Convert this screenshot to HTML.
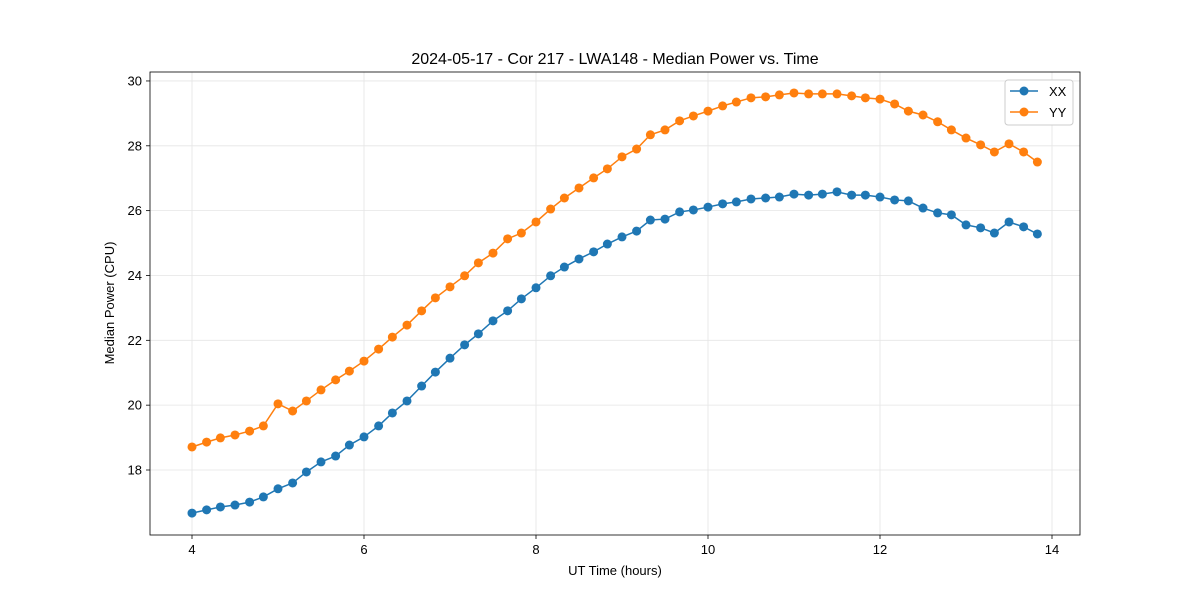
<!DOCTYPE html>
<html><head><meta charset="utf-8"><style>
body{margin:0;background:#fff;}
svg{display:block;font-family:"Liberation Sans","DejaVu Sans",sans-serif;}
</style></head><body>
<svg id="chart" width="1200" height="600"></svg>
<script>
const times=[4.00,4.17,4.33,4.50,4.67,4.83,5.00,5.17,5.33,5.50,5.67,5.83,6.00,6.17,6.33,6.50,6.67,6.83,7.00,7.17,7.33,7.50,7.67,7.83,8.00,8.17,8.33,8.50,8.67,8.83,9.00,9.17,9.33,9.50,9.67,9.83,10.00,10.17,10.33,10.50,10.67,10.83,11.00,11.17,11.33,11.50,11.67,11.83,12.00,12.17,12.33,12.50,12.67,12.83,13.00,13.17,13.33,13.50,13.67,13.83];
const xxValues=[16.67,16.77,16.86,16.92,17.01,17.17,17.42,17.60,17.94,18.25,18.43,18.77,19.02,19.36,19.76,20.13,20.59,21.02,21.45,21.86,22.20,22.60,22.91,23.28,23.62,23.99,24.26,24.51,24.73,24.97,25.19,25.37,25.71,25.74,25.96,26.02,26.11,26.21,26.27,26.36,26.39,26.42,26.51,26.48,26.51,26.58,26.48,26.48,26.42,26.33,26.30,26.08,25.93,25.87,25.56,25.47,25.31,25.65,25.50,25.28];
const yyValues=[18.71,18.86,18.99,19.08,19.20,19.36,20.04,19.82,20.13,20.47,20.78,21.05,21.36,21.73,22.10,22.47,22.91,23.31,23.65,23.99,24.39,24.69,25.13,25.31,25.65,26.05,26.39,26.70,27.01,27.29,27.66,27.90,28.34,28.49,28.77,28.92,29.07,29.23,29.35,29.48,29.51,29.57,29.63,29.60,29.60,29.60,29.54,29.48,29.44,29.29,29.07,28.95,28.74,28.49,28.24,28.03,27.81,28.06,27.81,27.50];
const xTicks=[4,6,8,10,12,14];
const yTicks=[18,20,22,24,26,28,30];

const NS="http://www.w3.org/2000/svg";
const svg=document.getElementById('chart');
const L=150,R=1080,T=72,B=535;
function xs(v){return 192+(v-4)*86;}
function ys(v){return 470-(v-18)*32.42;}
function mk(tag,attrs,parent){const e=document.createElementNS(NS,tag);for(const k in attrs)e.setAttribute(k,attrs[k]);(parent||svg).appendChild(e);return e;}

const grid=mk('g',{});


xTicks.forEach(t=>{mk('line',{x1:xs(t),x2:xs(t),y1:T,y2:B,stroke:'#e5e5e5','stroke-width':0.8},grid);});
yTicks.forEach(t=>{mk('line',{x1:L,x2:R,y1:ys(t),y2:ys(t),stroke:'#e5e5e5','stroke-width':0.8},grid);});

const xAxis=mk('g',{});


xTicks.forEach(t=>{
  mk('line',{x1:xs(t),x2:xs(t),y1:B,y2:B+4,stroke:'#000','stroke-width':0.8},xAxis);
  const tx=mk('text',{x:xs(t),y:B+19,'text-anchor':'middle','font-size':13},xAxis);
  tx.textContent=t;
  
  
});
const yAxis=mk('g',{});


yTicks.forEach(t=>{
  mk('line',{x1:L-4,x2:L,y1:ys(t),y2:ys(t),stroke:'#000','stroke-width':0.8},yAxis);
  const tx=mk('text',{x:L-8,y:ys(t)+4.5,'text-anchor':'end','font-size':13},yAxis);
  tx.textContent=t;
  
  
});

function series(vals,color,name){
  const g=mk('g',{});
  
  
  mk('polyline',{points:vals.map((v,i)=>xs(times[i])+','+ys(v)).join(' '),fill:'none',stroke:color,'stroke-width':1.5},g);
  vals.forEach((v,i)=>{
    const c=mk('circle',{cx:xs(times[i]),cy:ys(v),r:4.5,fill:color},g);
    
    
  });
}
series(xxValues,'#1f77b4','series-xx');
series(yyValues,'#ff7f0e','series-yy');

const frame=mk('rect',{x:L,y:T,width:R-L,height:B-T,fill:'none',stroke:'#000','stroke-width':0.8});



const title=mk('text',{x:615,y:64,'text-anchor':'middle','font-size':16});
title.textContent='2024-05-17 - Cor 217 - LWA148 - Median Power vs. Time';


const xl=mk('text',{x:615,y:575,'text-anchor':'middle','font-size':13});
xl.textContent='UT Time (hours)';


const yl=mk('text',{x:0,y:0,'text-anchor':'middle','font-size':13,transform:'translate(114,303) rotate(-90)'});
yl.textContent='Median Power (CPU)';



const lg=mk('g',{});


mk('rect',{x:1005,y:80,width:68,height:45,rx:3,fill:'#fff',stroke:'#ccc','stroke-width':1},lg);
[['XX','#1f77b4',91],['YY','#ff7f0e',112]].forEach(([n,c,y])=>{
  const e=mk('g',{},lg);
  
  
  mk('line',{x1:1010,x2:1038,y1:y,y2:y,stroke:c,'stroke-width':1.5},e);
  mk('circle',{cx:1024,cy:y,r:4.5,fill:c},e);
  const t=mk('text',{x:1049,y:y+5,'font-size':13},e);t.textContent=n;
});
</script>
</body></html>
